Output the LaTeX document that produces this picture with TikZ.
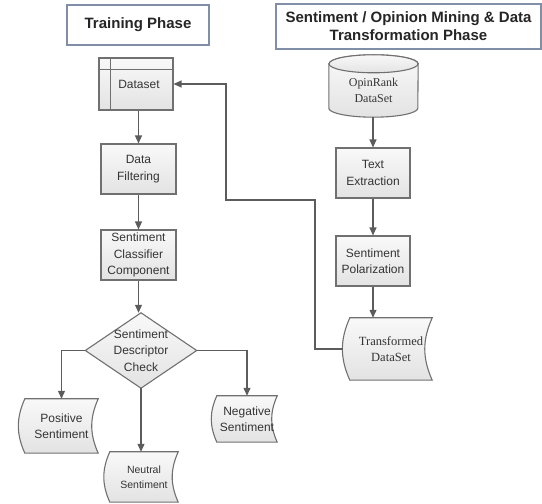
\documentclass[tikz,border=0pt]{standalone}
\usepackage{fontspec}
\setmainfont{Liberation Sans}
\newfontfamily\serifface{Liberation Serif}
\usepackage{tikz}
\usetikzlibrary{arrows.meta,backgrounds,calc,positioning}

\definecolor{edgegray}{RGB}{112,112,112}
\definecolor{titleblue}{RGB}{128,142,168}
\definecolor{linegray}{RGB}{92,92,92}
\definecolor{textgray}{RGB}{52,52,52}

\tikzset{
  boxfill/.style={draw=edgegray, line width=1.1pt, top color=gray!5, bottom color=gray!22},
  procbox/.style={boxfill, minimum width=75pt, minimum height=50pt, inner sep=1pt, align=center, text=textgray, font=\fontsize{12}{16.5}\selectfont},
  shapetext/.style={inner sep=0pt, align=center, text=textgray, font=\fontsize{12}{16.5}\selectfont},
  titlebox/.style={draw=titleblue, line width=1.1pt, fill=white, align=center, text=black!85, font=\bfseries\fontsize{15}{18}\selectfont},
  flow/.style={draw=linegray, line width=1.2pt, -{Triangle[length=8pt,width=7pt]}},
}
% outlines drawn behind the node texts
\newcommand{\tapeoutline}[1]{\draw[boxfill] (#1.north west) to[bend right=24] (#1.south west) -- (#1.south east) to[bend left=24] (#1.north east) -- cycle;}
\newcommand{\diamondoutline}[1]{\draw[boxfill] (#1.north) -- (#1.east) -- (#1.south) -- (#1.west) -- cycle;}
\newcommand{\drumoutline}[1]{%
  \draw[boxfill] (#1.north west) -- ([yshift=9pt]#1.south west) arc[start angle=180, end angle=360, x radius=44.5pt, y radius=9pt] -- (#1.north east) arc[start angle=0, end angle=180, x radius=44.5pt, y radius=9pt] -- cycle;
  \draw[boxfill] (#1.north) ellipse[x radius=44.5pt, y radius=9pt];}

\begin{document}
\begin{tikzpicture}[x=1pt,y=1pt]
\useasboundingbox (0,0) rectangle (542,504);

% headings
\node[titlebox, minimum width=142pt, minimum height=40pt] (trainhead) at (138,479) {Training Phase};
\node[titlebox, minimum width=265pt, minimum height=45pt] (minehead) at (408.5,477.5) {Sentiment / Opinion Mining \& Data\\Transformation Phase};

% training phase
\node[procbox, minimum width=74pt, minimum height=52pt] (dataset) at (136,420) {\hspace{6pt}Dataset};
\draw[edgegray, line width=1.1pt] ([xshift=12pt]dataset.north west) -- ([xshift=12pt]dataset.south west)
  ([yshift=-12pt]dataset.north west) -- ([yshift=-12pt]dataset.north east);
\node[procbox] (filter) at (138.5,335) {Data\\Filtering};
\node[procbox] (classifier) at (138.5,249) {Sentiment\\Classifier\\Component};
\node[shapetext, minimum width=111pt, minimum height=75pt] (check) at (141,153.5) {Sentiment\\Descriptor\\Check};
\node[shapetext, minimum width=73pt, minimum height=54pt] (positive) at (61.5,78) {Positive\\Sentiment};
\node[shapetext, minimum width=68pt, minimum height=50pt, font=\fontsize{10.5}{14.5}\selectfont] (neutral) at (144,27) {Neutral\\Sentiment};
\node[shapetext, minimum width=60pt, minimum height=46pt] (negative) at (247,85) {Negative\\Sentiment};

% mining and transformation phase
\node[shapetext, minimum width=89pt, minimum height=53pt, font=\serifface\fontsize{12}{16}\selectfont] (opinrank) at (373.5,413.5) {OpinRank\\DataSet};
\node[procbox, minimum width=74pt] (extraction) at (373,331) {Text\\Extraction};
\node[procbox, minimum width=74pt] (polarization) at (373,243) {Sentiment\\Polarization};
\node[shapetext, minimum width=82pt, minimum height=62pt, font=\serifface\fontsize{12.5}{16.5}\selectfont] (transformed) at (391,155) {Transformed\\DataSet};

\begin{scope}[on background layer]
\diamondoutline{check}
\tapeoutline{positive}
\tapeoutline{neutral}
\tapeoutline{negative}
\tapeoutline{transformed}
\drumoutline{opinrank}
\end{scope}

% connectors
\draw[flow] (dataset.south -| filter) -- (filter.north);
\draw[flow] (filter) -- (classifier);
\draw[flow] (classifier.south) -- (classifier.south |- check.north);
\draw[flow] (check.west) -| (positive.north);
\draw[flow] (check.south) -- (check.south |- neutral.north);
\draw[flow] (check.east) -| (negative.north);
\draw[flow] (opinrank.south -| extraction) -- (extraction.north);
\draw[flow] (extraction) -- (polarization);
\draw[flow] (polarization.south) -- (polarization.south |- transformed.north);
\coordinate (backup) at (315,304);
\coordinate (backleft) at (226,420);
\draw[flow] ([xshift=-7pt]transformed.west) -| (backup) -| (backleft) -- (dataset.east);
\end{tikzpicture}
\end{document}
